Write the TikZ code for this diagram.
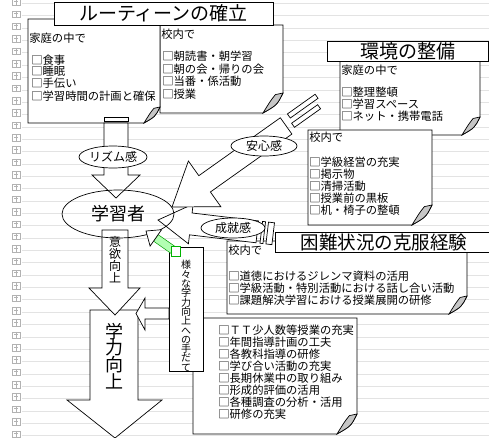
\documentclass[tikz,border=0pt]{standalone}
\usepackage{fontspec}
\setmainfont{Noto Sans CJK JP}
\usetikzlibrary{shapes.geometric}
\newcommand\fnote[5]{%
  \filldraw[fill=white] (#1,#2) -- (#3,#2) -- (#3,{#4-#5}) .. controls ({#3-0.3*#5},{#4-0.4*#5}) .. ({#3-#5},#4) -- (#1,#4) -- cycle;
  \filldraw[fill=gray!45] ({#3-#5},#4) .. controls ({#3-0.3*#5},{#4-0.4*#5}) .. (#3,{#4-#5}) -- ({#3-0.38*#5},{#4-0.92*#5}) .. controls ({#3-0.62*#5},{#4-0.62*#5}) .. ({#3-#5},#4) -- cycle;
}
\begin{document}
\begin{tikzpicture}[x=1pt,y=-1pt,line width=0.7pt,
  itm/.style={inner sep=0pt,anchor=west,font=\fontsize{11.3}{12}\selectfont},
  ttl/.style={inner sep=0pt,font=\fontsize{19}{20}\selectfont},
  elabel/.style={draw,ellipse,fill=white,inner sep=0pt,font=\fontsize{12}{12}\selectfont},
  blk/.style={draw,fill=white,line join=miter},
  grid line/.style={gray!22,line width=0.5pt},
  icon/.style={gray!60,line width=0.5pt}]
\useasboundingbox (0,0) rectangle (489,437);
\fill[white] (0,0) rectangle (489,437);
% background ruled lines and margin marks
\foreach \k in {0,...,35}{
  \draw[grid line] (22,{3.3+12.35*\k}) -- (489,{3.3+12.35*\k});
  \draw[icon] (12,{2+12.35*\k-3.5}) rectangle (20,{2+12.35*\k+3});
  \draw[icon] (14,{2+12.35*\k-1}) -- (18,{2+12.35*\k-1}) (16,{2+12.35*\k-3.5}) -- (16,{2+12.35*\k+3});
}
% note B
\fnote{160}{25}{283}{113}{20}
\node[itm] (bh) at (161,34) {校内で};
\node[itm] (b1) at (162,56) {□朝読書・朝学習};
\node[itm] (b2) at (162,69) {□朝の会・帰りの会};
\node[itm] (b3) at (162,81) {□当番・係活動};
\node[itm] (b4) at (162,94) {□授業};
% note A
\fnote{28}{19}{160}{123}{16}
\node[itm] (ah) at (29,38) {家庭の中で};
\node[itm] (a1) at (31,60) {□食事};
\node[itm] (a2) at (31,71.5) {□睡眠};
\node[itm] (a3) at (31,83) {□手伝い};
\node[itm] (a4) at (31,96) {□学習時間の計画と確保};
% title 1
\draw[blk] (54,2) rectangle (273,25);
\node[ttl] (t1) at (163.5,13.5) {ルーティーンの確立};
% note C
\fnote{340}{61}{480}{135}{18}
\node[itm] (ch) at (341,70) {家庭の中で};
\node[itm] (c1) at (341,92) {□整理整頓};
\node[itm] (c2) at (341,104) {□学習スペース};
\node[itm] (c3) at (341,116) {□ネット・携帯電話};
\draw[blk] (327,41) rectangle (488,61);
\node[ttl] (t2) at (407.5,51) {環境の整備};
% note D
\fnote{308}{130}{432}{225}{20}
\node[itm] (dh) at (309,137) {校内で};
\node[itm] (d1) at (309,162) {□学級経営の充実};
\node[itm] (d2) at (309,174) {□掲示物};
\node[itm] (d3) at (309,186) {□清掃活動};
\node[itm] (d4) at (309,198) {□授業前の黒板};
\node[itm] (d5) at (309,210) {□机・椅子の整頓};
% note E
\fnote{227}{241}{467}{314}{18}
\node[itm] (eh) at (228,250) {校内で};
\node[itm] (e1) at (228,276) {□道徳におけるジレンマ資料の活用};
\node[itm] (e2) at (228,288) {□学級活動・特別活動における話し合い活動};
\node[itm] (e3) at (228,300) {□課題解決学習における授業展開の研修};
% arrow 成就感
\begin{scope}[shift={(158,220)},rotate=-6.8]
  \filldraw[blk] (0,0) -- (33,20) -- (33,11) -- (100,11) -- (100,-11) -- (33,-11) -- (33,-20) -- cycle;
  \filldraw[blk] (104,-11) rectangle (107,11);
  \filldraw[blk] (110,-11) rectangle (116,11);
\end{scope}
\node[elabel,minimum width=64,minimum height=20] (joju) at (233,228) {成就感};
\draw[blk] (275,232) rectangle (495,252);
\node[ttl,font=\fontsize{18.5}{19}\selectfont] (t3) at (384,242) {困難状況の克服経験};
% note F
\fnote{193}{318}{357}{434}{20}
\node[itm] (f1) at (218,330) {□ＴＴ少人数等授業の充実};
\node[itm] (f2) at (218,342) {□年間指導計画の工夫};
\node[itm] (f3) at (218,354) {□各教科指導の研修};
\node[itm] (f4) at (218,366) {□学び合い活動の充実};
\node[itm] (f5) at (218,378) {□長期休業中の取り組み};
\node[itm] (f6) at (218,390) {□形成的評価の活用};
\node[itm] (f7) at (218,402) {□各種調査の分析・活用};
\node[itm] (f8) at (218,414) {□研修の充実};
% vertical box G
\draw[blk] (169,247) rectangle (203,371);
\node[inner sep=0pt,align=center,font=\fontsize{10}{9.3}\selectfont] (g) at (186,316) {様\\々\\な\\学\\力\\向\\上\\へ\\の\\手\\だ\\て};
% big arrow 学力向上
\filldraw[blk] (90,310) -- (138,310) -- (138,400) -- (162,400) -- (115,438) -- (67,400) -- (90,400) -- cycle;
\node[inner sep=0pt,align=center,font=\fontsize{18}{16.7}\selectfont] (gr) at (114,356) {学\\力\\向\\上};
% left arrow from G
\filldraw[blk] (169,308) -- (145,308) -- (145,298) -- (136,313.5) -- (145,330) -- (145,319) -- (169,319) -- cycle;
% arrow 意欲向上
\filldraw[blk] (102,230) -- (128,230) -- (128,288) -- (140,288) -- (115,315) -- (89,288) -- (102,288) -- cycle;
\node[inner sep=0pt,align=center,font=\fontsize{12}{10.8}\selectfont] (iy) at (115,259.5) {意\\欲\\向\\上};
% top arrow
\filldraw[blk] (104,117) rectangle (128,121);
\filldraw[blk] (104,123) -- (128,123) -- (128,175) -- (140,175) -- (116,198) -- (92,175) -- (104,175) -- cycle;
\node[elabel,minimum width=68,minimum height=22] (rz) at (113,157) {リズム感};
% arrow 安心感
\begin{scope}[shift={(172,207)},rotate=35.4]
  \filldraw[blk] (0,0) -- (40,28) -- (40,10) -- (140,10) -- (140,-10) -- (40,-10) -- (40,-28) -- cycle;
  \filldraw[blk] (148,-9) rectangle (182,-4);
  \filldraw[blk] (146,1) rectangle (178,6);
\end{scope}
\node[elabel,minimum width=66,minimum height=20] (an) at (264,146) {安心感};
% learner
\node[draw,ellipse,minimum width=112,minimum height=48,inner sep=0pt,font=\fontsize{18}{18}\selectfont] (gk) at (118,214) {学習者};
% small selected arrow
\begin{scope}[shift={(146,231)},rotate=-35]
  \filldraw[draw=green!60!black,fill=green!30,line width=0.5pt] (12,-4) rectangle (34,4);
  \filldraw[blk] (0,0) -- (12,10) -- (12,-10) -- cycle;
\end{scope}
\filldraw[draw=green!70!black,fill=white,line width=0.6pt] (171,246) rectangle (180,256);
\end{tikzpicture}
\end{document}
